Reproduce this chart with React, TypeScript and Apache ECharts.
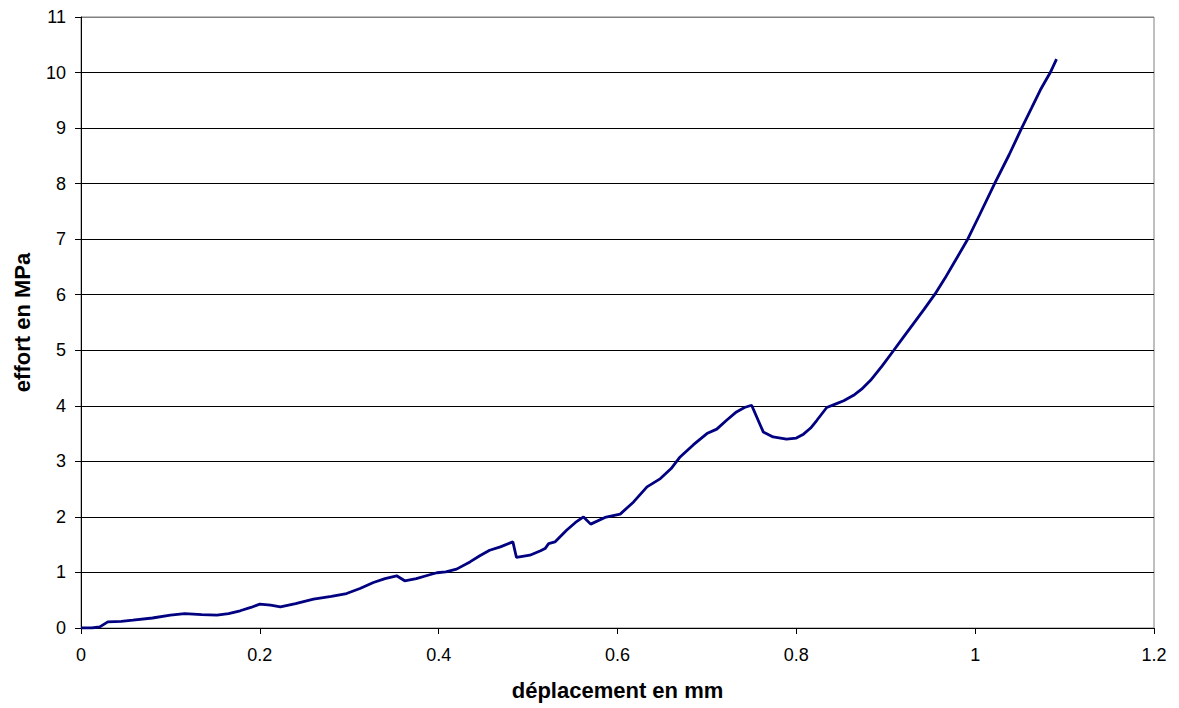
import React, { useEffect, useRef } from "react";
import * as echarts from "echarts";

const displacement = [
  0, 0.012, 0.021, 0.03, 0.045, 0.058, 0.08, 0.1, 0.116, 0.135, 0.152, 0.165, 0.178, 0.19, 0.2,
  0.212, 0.223, 0.24, 0.26, 0.28, 0.297, 0.312, 0.327, 0.34, 0.353, 0.362, 0.375, 0.388, 0.398,
  0.408, 0.42, 0.435, 0.446, 0.457, 0.469, 0.483, 0.487, 0.502, 0.514, 0.519, 0.523, 0.53,
  0.543, 0.553, 0.562, 0.57, 0.586, 0.603, 0.618, 0.633, 0.648, 0.66, 0.67, 0.685, 0.7, 0.711,
  0.722, 0.733, 0.742, 0.75, 0.763, 0.774, 0.789, 0.8, 0.808, 0.816, 0.823, 0.834, 0.845,
  0.853, 0.864, 0.873, 0.883, 0.896, 0.909, 0.92, 0.931, 0.943, 0.955, 0.966, 0.978, 0.991,
  1.005, 1.022, 1.038, 1.052, 1.063, 1.073, 1.084, 1.091,
];

const effort = [
  0, 0.0, 0.02, 0.11, 0.12, 0.14, 0.18, 0.23, 0.26, 0.24, 0.23, 0.26, 0.31, 0.37, 0.43,
  0.41, 0.38, 0.44, 0.52, 0.57, 0.62, 0.71, 0.82, 0.89, 0.94, 0.85, 0.89, 0.95, 0.995,
  1.01, 1.06, 1.19, 1.3, 1.4, 1.46, 1.55, 1.27, 1.31, 1.39, 1.43, 1.52, 1.55,
  1.76, 1.9, 2.0, 1.87, 1.99, 2.05, 2.27, 2.54, 2.69, 2.87, 3.08, 3.3, 3.5, 3.58,
  3.74, 3.89, 3.97, 4.01, 3.53, 3.44, 3.4, 3.42, 3.49, 3.6, 3.74, 3.97, 4.04,
  4.09, 4.19, 4.3, 4.46, 4.72, 5.0, 5.24, 5.48, 5.74, 6.01, 6.29, 6.62, 6.98,
  7.44, 8.01, 8.52, 9.0, 9.36, 9.69, 10.0, 10.24,
];

const yTicks = [0, 1, 2, 3, 4, 5, 6, 7, 8, 9, 10, 11];

export default function App() {
  const ref = useRef<HTMLDivElement>(null);

  useEffect(() => {
    if (!ref.current) return;
    const chart = echarts.init(ref.current, undefined, { renderer: "svg" });
    const data = displacement.map((x, i) => [x, effort[i]]);
    const splitColors = yTicks.map((t) => (t === 11 ? "#808080" : "#000000"));
    chart.setOption({
      animation: false,
      backgroundColor: "#ffffff",
      textStyle: { fontFamily: "Liberation Sans, Arial, sans-serif" },
      grid: {
        left: 81,
        right: 25,
        top: 17,
        bottom: 80,
        show: true,
        borderColor: "#808080",
        borderWidth: 1,
        backgroundColor: "transparent",
      },
      xAxis: {
        type: "value",
        min: 0,
        max: 1.2,
        interval: 0.2,
        name: "déplacement en mm",
        nameLocation: "middle",
        nameGap: 51,
        nameTextStyle: { fontSize: 22, fontWeight: "bold", color: "#000" },
        axisLine: { show: true, onZero: false, lineStyle: { color: "#000", width: 1 } },
        axisTick: { show: true, inside: false, length: 6, lineStyle: { color: "#000" } },
        axisLabel: {
          fontSize: 18,
          color: "#000",
          margin: 18,
          formatter: (v: number) => String(Math.round(v * 10) / 10),
        },
        splitLine: { show: false },
      },
      yAxis: {
        type: "value",
        min: 0,
        max: 11,
        interval: 1,
        name: "effort en MPa",
        nameLocation: "middle",
        nameGap: 48,
        nameRotate: 90,
        nameTextStyle: { fontSize: 22, fontWeight: "bold", color: "#000" },
        axisLine: { show: true, lineStyle: { color: "#000", width: 1 } },
        axisTick: { show: true, inside: false, length: 6, lineStyle: { color: "#000" } },
        axisLabel: { fontSize: 18, color: "#000", margin: 15 },
        splitLine: { show: true, lineStyle: { color: splitColors, width: 1 } },
      },
      series: [
        {
          type: "line",
          data,
          showSymbol: false,
          symbol: "none",
          smooth: false,
          lineStyle: { color: "#000080", width: 2.8 },
        },
      ],
    });
    return () => chart.dispose();
  }, []);

  return (
    <div
      ref={ref}
      style={{ position: "fixed", left: 0, top: 0, width: 1179, height: 708, background: "#fff" }}
    />
  );
}
